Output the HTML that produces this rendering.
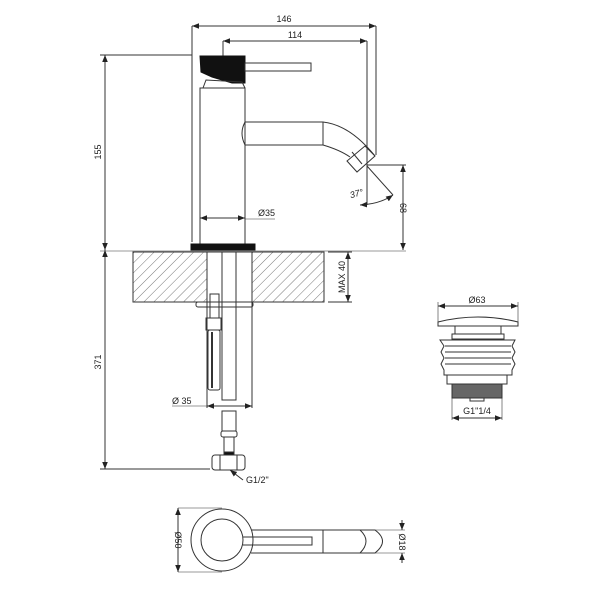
<!DOCTYPE html>
<html><head><meta charset="utf-8"><style>html,body{margin:0;padding:0;background:#fff}svg{display:block}</style></head>
<body>
<svg width="600" height="600" viewBox="0 0 600 600" xmlns="http://www.w3.org/2000/svg" font-family="Liberation Sans, sans-serif" font-size="9" fill="none" stroke="#333" stroke-width="1">
<defs>
<marker id="a" viewBox="0 0 10 10" refX="10" refY="5" markerWidth="7" markerHeight="7" orient="auto-start-reverse"><path d="M0,1 L10,5 L0,9z" fill="#222" stroke="none"/></marker>
<pattern id="h" width="7" height="7" patternUnits="userSpaceOnUse" patternTransform="rotate(45)"><line x1="0" y1="0" x2="0" y2="7" stroke="#555" stroke-width="0.8"/></pattern>
</defs>
<!-- top dims -->
<line x1="192" y1="26" x2="376" y2="26" marker-start="url(#a)" marker-end="url(#a)"/>
<text x="284" y="22" fill="#222" stroke="none" text-anchor="middle">146</text>
<line x1="223" y1="41" x2="367" y2="41" marker-start="url(#a)" marker-end="url(#a)"/>
<text x="295" y="38" fill="#222" stroke="none" text-anchor="middle">114</text>
<line x1="192" y1="26" x2="192" y2="242"/>
<line x1="376" y1="26" x2="376" y2="155"/>
<line x1="367" y1="41" x2="367" y2="205"/>
<line x1="223" y1="41" x2="223" y2="56"/>
<!-- handle -->
<path d="M200,56 L245,56 L245,83 L232,83 L212,77 L201,72 Z" fill="#111" stroke="#111"/>
<rect x="245" y="63" width="66" height="8"/>
<path d="M203,88 L206,80 L242,82 L245,88"/>
<!-- body -->
<rect x="200" y="88" width="45" height="157"/>
<rect x="191" y="244" width="64" height="6" fill="#111" stroke="#111"/>
<!-- spout -->
<path d="M245,122 L323,122 Q350,125 375,156"/>
<path d="M245,145 L323,145 Q340,150 350,157"/>
<path d="M245,122 Q239,133 245,145"/>
<line x1="323" y1="122" x2="323" y2="145"/>
<path d="M375,156 L357,172 L347,161 L365,146 Z"/>
<line x1="352" y1="152" x2="362" y2="164"/>
<!-- 37 deg -->
<line x1="367" y1="166" x2="393" y2="195"/>
<path d="M360,205 Q380,204 393,195" marker-start="url(#a)" marker-end="url(#a)"/>
<text x="350" y="197" fill="#222" stroke="none" font-style="italic" transform="rotate(-15 355 195)">37°</text>
<!-- 155 -->
<line x1="100" y1="55" x2="192" y2="55"/>
<line x1="105" y1="55" x2="105" y2="250" marker-start="url(#a)" marker-end="url(#a)"/>
<text x="0" y="0" fill="#222" stroke="none" text-anchor="middle" transform="translate(101,152) rotate(-90)">155</text>
<!-- 68 -->
<line x1="367" y1="165" x2="406" y2="165"/>
<line x1="403" y1="165" x2="403" y2="250" marker-start="url(#a)" marker-end="url(#a)"/>
<text x="0" y="0" fill="#222" stroke="none" text-anchor="middle" transform="translate(400,208) rotate(90)">68</text>
<line x1="100" y1="251" x2="406" y2="251" stroke-width="0.6"/>
<!-- Ø35 top -->
<line x1="200" y1="218" x2="245" y2="218" marker-start="url(#a)" marker-end="url(#a)"/>
<text x="258" y="216" fill="#222" stroke="none">Ø35</text>
<line x1="245" y1="219" x2="275" y2="219" stroke-width="0.6"/>
<!-- counter -->
<rect x="133" y="252" width="74" height="50" fill="url(#h)"/>
<rect x="252" y="252" width="72" height="50" fill="url(#h)"/>
<line x1="133" y1="252" x2="324" y2="252"/><line x1="133" y1="302" x2="324" y2="302"/>
<line x1="207" y1="252" x2="207" y2="408"/>
<line x1="252" y1="252" x2="252" y2="408"/>
<rect x="222" y="252" width="14" height="148"/>
<rect x="196" y="302" width="57" height="5" rx="2"/>
<!-- MAX 40 -->
<line x1="328" y1="252" x2="352" y2="252"/><line x1="328" y1="302" x2="352" y2="302"/>
<line x1="348" y1="252" x2="348" y2="302" marker-start="url(#a)" marker-end="url(#a)"/>
<text x="0" y="0" fill="#222" stroke="none" text-anchor="middle" transform="translate(345,277) rotate(-90)">MAX 40</text>
<!-- flex hose -->
<rect x="210" y="294" width="9" height="24"/>
<rect x="206" y="318" width="15" height="12"/>
<rect x="208" y="330" width="12" height="60" rx="2"/>
<line x1="212" y1="332" x2="212" y2="388" stroke-width="2"/>
<!-- Ø35 lower -->
<line x1="207" y1="406" x2="252" y2="406" marker-start="url(#a)" marker-end="url(#a)"/>
<line x1="172" y1="406" x2="207" y2="406" stroke-width="0.6"/>
<text x="172" y="404" fill="#222" stroke="none">Ø 35</text>
<!-- lower connector -->
<rect x="222" y="411" width="14" height="20"/>
<rect x="221" y="431" width="16" height="6" rx="2"/>
<rect x="224" y="437" width="10" height="15"/>
<rect x="224" y="452" width="10" height="3" fill="#111"/>
<rect x="212" y="455" width="33" height="15" rx="3"/>
<line x1="220" y1="455" x2="220" y2="470"/><line x1="237" y1="455" x2="237" y2="470"/>
<!-- 371 -->
<line x1="105" y1="250" x2="105" y2="469" marker-start="url(#a)" marker-end="url(#a)"/>
<line x1="100" y1="469" x2="210" y2="469"/>
<text x="0" y="0" fill="#222" stroke="none" text-anchor="middle" transform="translate(101,362) rotate(-90)">371</text>
<line x1="243" y1="480" x2="230" y2="470" marker-end="url(#a)"/>
<text x="246" y="483" fill="#222" stroke="none">G1/2"</text>
<!-- drain -->
<line x1="438" y1="306" x2="518" y2="306" marker-start="url(#a)" marker-end="url(#a)"/>
<line x1="438" y1="302" x2="438" y2="322" stroke-width="0.6"/><line x1="518" y1="302" x2="518" y2="322" stroke-width="0.6"/>
<text x="477" y="303" fill="#222" stroke="none" text-anchor="middle">Ø63</text>
<path d="M438,326 L438,322 Q478,312 518,322 L518,326 Z"/>
<rect x="455" y="326" width="46" height="8"/>
<rect x="452" y="334" width="52" height="5"/>
<path d="M440,340 L515,340 L512,346 L515,352 L512,358 L515,364 L512,370 L512,375 L444,375 L444,370 L441,364 L444,358 L441,352 L444,346 Z"/>
<line x1="445" y1="346" x2="511" y2="346"/><line x1="445" y1="352" x2="511" y2="352"/><line x1="445" y1="358" x2="511" y2="358"/><line x1="445" y1="364" x2="511" y2="364"/>
<rect x="447" y="375" width="60" height="9"/>
<rect x="452" y="384" width="50" height="14" fill="#666"/>
<rect x="470" y="398" width="14" height="3"/>
<line x1="452" y1="398" x2="452" y2="420" stroke-width="0.6"/><line x1="502" y1="398" x2="502" y2="420" stroke-width="0.6"/>
<line x1="452" y1="418" x2="502" y2="418" marker-start="url(#a)" marker-end="url(#a)"/>
<text x="477" y="414" fill="#222" stroke="none" text-anchor="middle">G1"1/4</text>
<!-- top view -->
<circle cx="222" cy="540" r="31"/>
<circle cx="222" cy="540" r="21"/>
<path d="M251,530 L375,530 Q390,541 375,553 L251,553"/>
<path d="M360,530 Q372,541 360,553"/>
<line x1="323" y1="530" x2="323" y2="553"/>
<path d="M243,537 L312,537 L312,545 L243,545"/>
<line x1="178" y1="508" x2="222" y2="508" stroke-width="0.6"/><line x1="178" y1="572" x2="222" y2="572" stroke-width="0.6"/>
<line x1="178" y1="508" x2="178" y2="572" marker-start="url(#a)" marker-end="url(#a)"/>
<text x="0" y="0" fill="#222" stroke="none" text-anchor="middle" transform="translate(175,540) rotate(90)">Ø50</text>
<line x1="375" y1="530" x2="405" y2="530" stroke-width="0.6"/><line x1="375" y1="553" x2="405" y2="553" stroke-width="0.6"/>
<line x1="402" y1="520" x2="402" y2="530" marker-end="url(#a)"/>
<line x1="402" y1="563" x2="402" y2="553" marker-end="url(#a)"/>
<text x="0" y="0" fill="#222" stroke="none" text-anchor="middle" transform="translate(399,542) rotate(90)">Ø18</text>
</svg>
</body></html>
